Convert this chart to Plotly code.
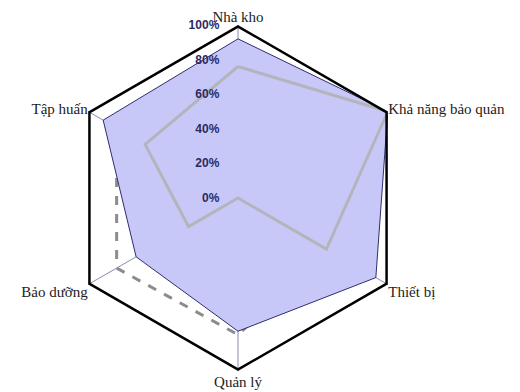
import plotly.graph_objects as go

# Radar axes (clockwise from the top)
categories = ["Nhà kho", "Khả năng bảo quản", "Thiết bị", "Quản lý", "Bảo dưỡng", "Tập huấn"]

# Series values in percent
target = [100, 100, 100, 100, 100, 100]
filled = [92, 100, 92, 77, 68, 90]
line_solid = [76, 100, 59, 0, 33, 62]
line_dashed = [86, 96, 62, 79, 81, 81]

radial_ticks = [0, 20, 40, 60, 80, 100]
radial_tick_text = ["0%", "20%", "40%", "60%", "80%", "100%"]


def closed(vals):
    return list(vals) + [vals[0]]


theta = closed(categories)

fig = go.Figure()

fig.add_trace(go.Scatterpolar(
    r=closed(line_dashed), theta=theta, mode="lines",
    line=dict(color="#8c8c8c", width=3, dash="dash"),
    showlegend=False, hoverinfo="skip",
))
fig.add_trace(go.Scatterpolar(
    r=closed(filled), theta=theta, mode="lines", fill="toself",
    fillcolor="rgb(200,200,248)",
    line=dict(color="#2e2e6e", width=1),
    showlegend=False,
))
fig.add_trace(go.Scatterpolar(
    r=closed(line_solid), theta=theta, mode="lines",
    line=dict(color="#b4b4bc", width=3),
    showlegend=False,
))
fig.add_trace(go.Scatterpolar(
    r=closed(target), theta=theta, mode="lines",
    line=dict(color="#000000", width=5),
    showlegend=False,
))

fig.update_layout(
    width=520, height=392,
    margin=dict(l=0, r=0, t=0, b=0),
    paper_bgcolor="white",
    plot_bgcolor="white",
    showlegend=False,
    polar=dict(
        domain=dict(x=[65 / 520, 411 / 520], y=[21 / 392, 367 / 392]),
        gridshape="linear",
        bgcolor="white",
        radialaxis=dict(
            range=[0, 100],
            tickvals=radial_ticks,
            ticktext=radial_tick_text,
            angle=90,
            tickangle=90,
            side="counterclockwise",
            showgrid=False,
            showline=False,
            ticks="outside",
            ticklen=14,
            tickcolor="rgba(0,0,0,0)",
            tickfont=dict(family="Liberation Sans", size=12, color="#2a2a62", weight="bold"),
            layer="above traces",
        ),
        angularaxis=dict(
            rotation=90,
            direction="clockwise",
            showgrid=True,
            gridcolor="#8a8aae",
            gridwidth=1,
            showline=False,
            ticks="",
            tickfont=dict(family="Liberation Serif", size=15, color="#222222"),
            layer="above traces",
        ),
    ),
)

fig.write_html("out.html")
